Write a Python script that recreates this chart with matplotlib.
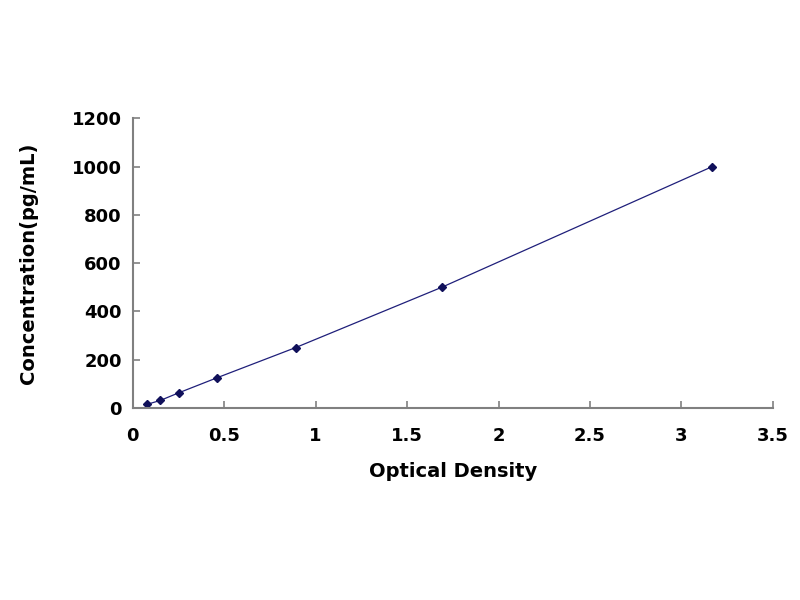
import matplotlib
matplotlib.use("Agg")
from matplotlib import pyplot as plt

# standard curve readings
od = [0.08, 0.15, 0.25, 0.46, 0.89, 1.69, 3.17]
conc = [15.6, 31.2, 62.5, 125, 250, 500, 1000]
xticks = [0, 0.5, 1, 1.5, 2, 2.5, 3, 3.5]
xticklabels = ["0", "0.5", "1", "1.5", "2", "2.5", "3", "3.5"]
yticks = [0, 200, 400, 600, 800, 1000, 1200]

plt.rcParams['font.family'] = ['DejaVu Sans']

fig = plt.figure(figsize=(8, 6), dpi=100)
ax = fig.add_axes([0.166, 0.32, 0.8, 0.483])

ax.plot(od, conc, color='#1f1f7a', linewidth=0.9,
        marker='D', markersize=4, markerfacecolor='#10105a', markeredgecolor='#10105a')

ax.set_xlim(0, 3.5)
ax.set_ylim(0, 1200)
ax.set_xticks(xticks)
ax.set_xticklabels(xticklabels)
ax.set_yticks(yticks)

for side in ['top', 'right']:
    ax.spines[side].set_visible(False)
for side in ['left', 'bottom']:
    ax.spines[side].set_color('#808080')
    ax.spines[side].set_linewidth(1.5)

ax.tick_params(direction='in', length=5, width=1.2, color='#808080', labelsize=13)
ax.tick_params(axis='x', pad=14)
ax.tick_params(axis='y', pad=8)
for lbl in ax.get_xticklabels() + ax.get_yticklabels():
    lbl.set_fontweight('bold')

ax.set_xlabel("Optical Density", fontsize=14, fontweight='bold', labelpad=12)
ax.set_ylabel("Concentration(pg/mL)", fontsize=14, fontweight='bold', labelpad=24)

fig.savefig("out.png", dpi=100, facecolor='white')
